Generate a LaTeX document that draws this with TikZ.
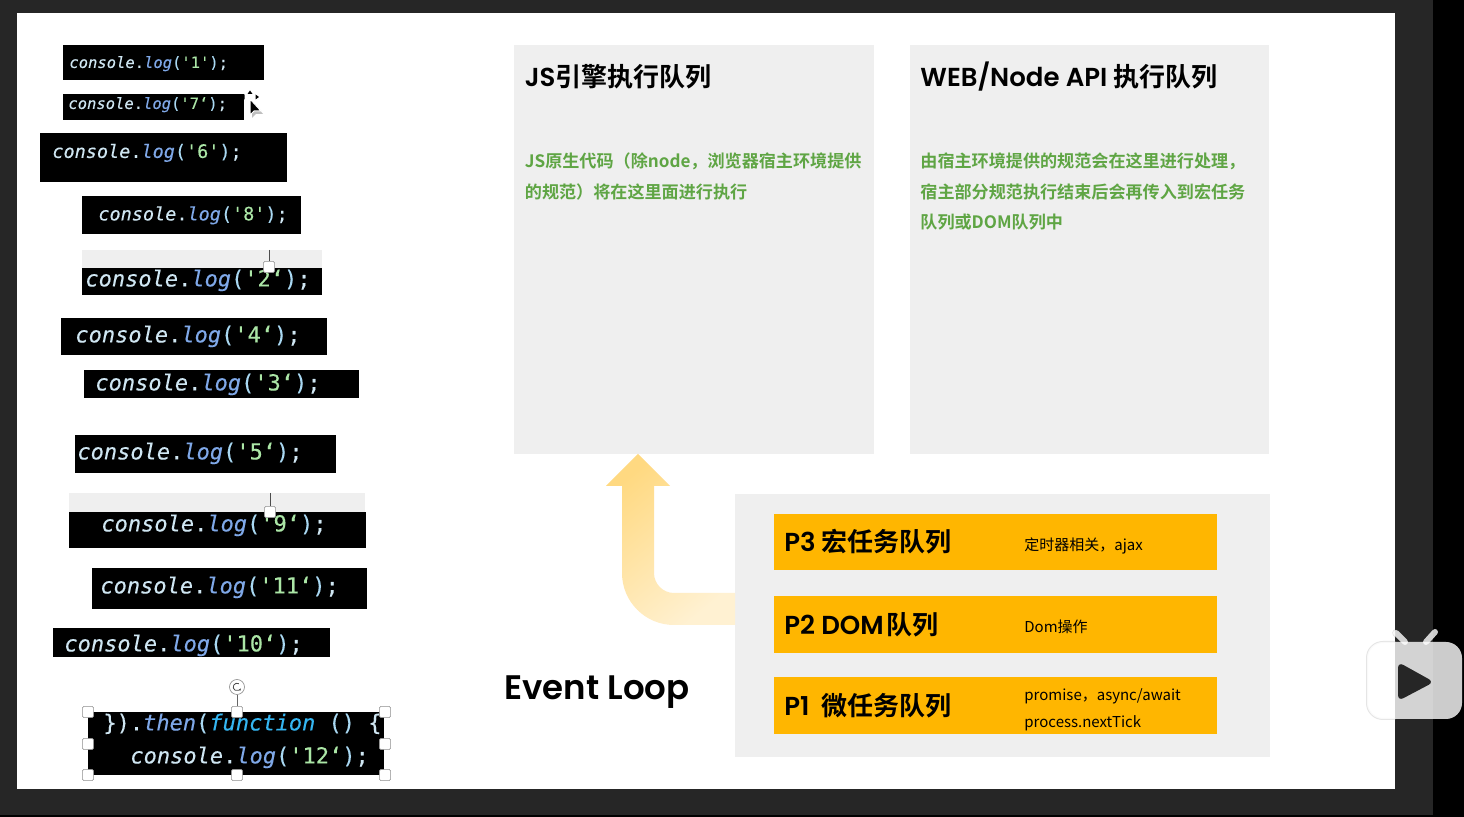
\documentclass[tikz,border=0pt]{standalone}
\usepackage{fontspec}
\setmainfont{Noto Sans CJK SC}
\newfontfamily\headfont{Poppins SemiBold}
\newfontfamily\zhbold{Noto Sans CJK SC Bold}
\newfontfamily\codefont[FakeBold=0.25]{DejaVu Sans Mono}
\usetikzlibrary{arrows.meta}

\definecolor{framedark}{HTML}{262626}
\definecolor{panelgray}{HTML}{EFEFEF}
\definecolor{barorange}{HTML}{FFB600}
\definecolor{notegreen}{HTML}{5FA544}
\definecolor{arrowstart}{HTML}{FFF1D2}
\definecolor{arrowend}{HTML}{FFD981}
\definecolor{codelight}{HTML}{CFE6F2}
\definecolor{codeblue}{HTML}{7FA8E8}
\definecolor{codeparen}{HTML}{A9D8F2}
\definecolor{codegreen}{HTML}{ABE6A6}
\definecolor{codecyan}{HTML}{35B6F2}

\newcommand{\logcode}[1]{{\itshape\textcolor{codelight}{console}}\textcolor{codelight}{.}{\itshape\textcolor{codeblue}{log}}\textcolor{codeparen}{(}\textcolor{codegreen}{#1}\textcolor{codeparen}{)}\textcolor{codelight}{;}}

\tikzset{
  panel/.style={fill=panelgray, anchor=north west, inner sep=0pt},
  codebox/.style={fill=black, anchor=north west, inner sep=0pt},
  codetext/.style={anchor=mid west, inner sep=0pt},
  queuebar/.style={fill=barorange, anchor=north west, inner sep=0pt, minimum width=221.5pt},
  headline/.style={anchor=mid west, inner sep=0pt, font=\fontsize{13}{13}\selectfont},
  noteline/.style={anchor=mid west, inner sep=0pt, text=notegreen, font=\zhbold\fontsize{8.55}{8.55}\selectfont},
  smallnote/.style={anchor=mid west, inner sep=0pt, font=\fontsize{7.5}{7.5}\selectfont},
  handle/.style={draw=black!45, fill=white, rounded corners=0.7pt, inner sep=0pt, minimum size=5.6pt, line width=0.3pt},
}

\begin{document}
\begin{tikzpicture}[x=0.5pt, y=-0.5pt]
  \useasboundingbox (0,0) rectangle (1464,817);

  % screen frame
  \fill[black] (0,0) rectangle (1464,817);
  \fill[framedark] (0,0) rectangle (1433,815);
  \fill[white] (17,13) rectangle (1395,789);

  % code snippets
  \node[panel, minimum width=120pt, minimum height=10pt] (bar-2) at (82,250) {};
  \node[panel, minimum width=148pt, minimum height=10pt] (bar-9) at (69,493) {};
  \foreach \idx/\xa/\ya/\xb/\yb/\tx/\ty/\fs/\num in {
    1/63/45/264/80/69/62.5/7.75/'1',
    7/63/94/244/120/68/103.5/7.75/'7‘,
    6/40/133/287/182/52/152.5/9.25/'6',
    8/82/196/301/234/98/215/9.25/'8',
    2/82/268/322/295/85/281/11/'2‘,
    4/61/318/327/355/75/337/11/'4‘,
    3/84/370/359/398/95/385/11/'3‘,
    5/75/435/336/473/77/454/11/'5‘,
    9/69/512/366/548/101/526/11/'9‘,
    11/92/568/367/609/100/588/11/'11‘,
    10/53/628/330/657/64/646/11/'10‘} {
    \node[codebox, minimum width={(\xb-\xa)*0.5pt}, minimum height={(\yb-\ya)*0.5pt}] (box-\idx) at (\xa,\ya) {};
    \node[codetext, font={\codefont\fontsize{\fs}{\fs}\selectfont}] (log-\idx) at (\tx,\ty) {\logcode{\num}};
  }

  % selected snippet
  \node[codebox, minimum width=148pt, minimum height=31.5pt] (box-12) at (88,712) {};
  \node[codetext, font={\codefont\fontsize{11}{11}\selectfont}] (then-12) at (103,725)
    {\textcolor{codelight}{\})}\textcolor{codelight}{.}{\itshape\textcolor{codeblue}{then}}\textcolor{codeparen}{(}{\itshape\textcolor{codecyan}{function}}\textcolor{codeparen}{~()~}\textcolor{codelight}{\{}};
  \node[codetext, font={\codefont\fontsize{11}{11}\selectfont}] (log-12) at (130,758) {\logcode{'12‘}};

  % drag handles
  \node[handle] (handle-2) at (269,267) {};
  \coordinate (stem-2) at (269,250);
  \draw[black!70, line width=0.4pt] (stem-2) -- (handle-2);
  \node[handle] (handle-9) at (270,512) {};
  \coordinate (stem-9) at (270,493);
  \draw[black!70, line width=0.4pt] (stem-9) -- (handle-9);
  \node[handle, circle, minimum size=7.5pt] (rotate-12) at (237,687) {};
  \foreach \idx/\hx/\hy in {nw/88/712, n/237/712, ne/385/712, w/88/744, e/385/744, sw/88/775, s/237/775, se/385/775} {
    \node[handle] (handle-\idx) at (\hx,\hy) {};
  }
  \draw[black!60, line width=0.4pt] (rotate-12) -- (handle-n);
  \draw[black!70, line width=0.4pt, -{Stealth[length=1.2pt]}] ([shift={(60:1.9pt)}]rotate-12.center) arc[start angle=60, end angle=340, radius=1.9pt];

  % mouse pointer
  \fill[black!25] (252,101) -- (252,118) -- (256,114) -- (263,114) -- cycle;
  \fill[black] (250,90.5) -- (247.5,94) -- (252.5,94) -- cycle (241,97) -- (244.5,94.5) -- (244.5,99.5) -- cycle (259,97) -- (255.5,94.5) -- (255.5,99.5) -- cycle;
  \draw[white, fill=black, line width=0.5pt, line join=round] (250,99) -- (250,115) -- (254,111) -- (261,111) -- cycle;

  % queue panels
  \node[panel, minimum width=180pt, minimum height=204.5pt] (js-queue) at (514,45) {};
  \node[panel, minimum width=179.5pt, minimum height=204.5pt] (web-queue) at (910,45) {};
  \node[panel, minimum width=267.5pt, minimum height=131.5pt] (task-queue) at (735,494) {};

  \node[headline] (js-title) at (524.5,81) {{\headfont JS}{\zhbold 引擎执行队列}};
  \node[noteline] (js-note-a) at (524.5,162) {JS原生代码（除node，浏览器宿主环境提供};
  \node[noteline] (js-note-b) at (524.5,193) {的规范）将在这里面进行执行};

  \node[headline] (web-title) at (920,81) {{\headfont WEB/Node API }{\zhbold 执行队列}};
  \node[noteline] (web-note-a) at (920,162) {由宿主环境提供的规范会在这里进行处理，};
  \node[noteline] (web-note-b) at (920,193) {宿主部分规范执行结束后会再传入到宏任务};
  \node[noteline] (web-note-c) at (920,223) {队列或DOM队列中};

  % task queues
  \node[queuebar, minimum height=28pt] (bar-p3) at (774,514) {};
  \node[queuebar, minimum height=28.5pt] (bar-p2) at (774,596) {};
  \node[queuebar, minimum height=28.5pt] (bar-p1) at (774,677) {};

  \node[headline] (p3-title) at (784,546) {{\headfont P3\hspace{3pt}}{\zhbold 宏任务队列}};
  \node[headline] (p2-title) at (784,629) {{\headfont P2 DOM\hspace{1.5pt}}{\zhbold 队列}};
  \node[headline] (p1-title) at (784,710) {{\headfont P1\hspace{6pt}}{\zhbold 微任务队列}};

  \node[smallnote] (p3-note) at (1024,545) {定时器相关，ajax};
  \node[smallnote] (p2-note) at (1024,627) {Dom操作};
  \node[smallnote] (p1-note-a) at (1024,695) {promise，async/await};
  \node[smallnote] (p1-note-b) at (1024,722) {process.nextTick};

  % loop arrow
  \shade[top color=arrowend, bottom color=arrowstart, shading angle=40]
    (735,593) -- (674,593) .. controls (663,593) and (654,584) .. (654,573)
    -- (654,486) -- (670,486) -- (638,454) -- (606,486) -- (622,486) -- (622,573)
    .. controls (622,601.7) and (645.3,625) .. (674,625) -- (735,625) -- cycle;

  \node[anchor=mid west, inner sep=0pt, font=\headfont\fontsize{17}{17}\selectfont] (loop-title) at (504,694) {Event Loop};

  % player badge
  \begin{scope}
    \clip (1340,620) rectangle (1395,730);
    \draw[black!10, line width=1pt, rounded corners=8pt] (1367,642) rectangle (1462,719);
    \draw[black!10, line width=3.8pt, line cap=round] (1396,633) -- (1405,643);
  \end{scope}
  \fill[white, opacity=0.8, rounded corners=8pt] (1367,642) rectangle (1462,719);
  \draw[white, opacity=0.8, line width=3pt, line cap=round] (1396,633) -- (1405,642);
  \draw[white, opacity=0.8, line width=3pt, line cap=round] (1435,632) -- (1426,642);
  \fill[framedark, rounded corners=3pt] (1398,662) -- (1434,682) -- (1398,701) -- cycle;
\end{tikzpicture}
\end{document}
